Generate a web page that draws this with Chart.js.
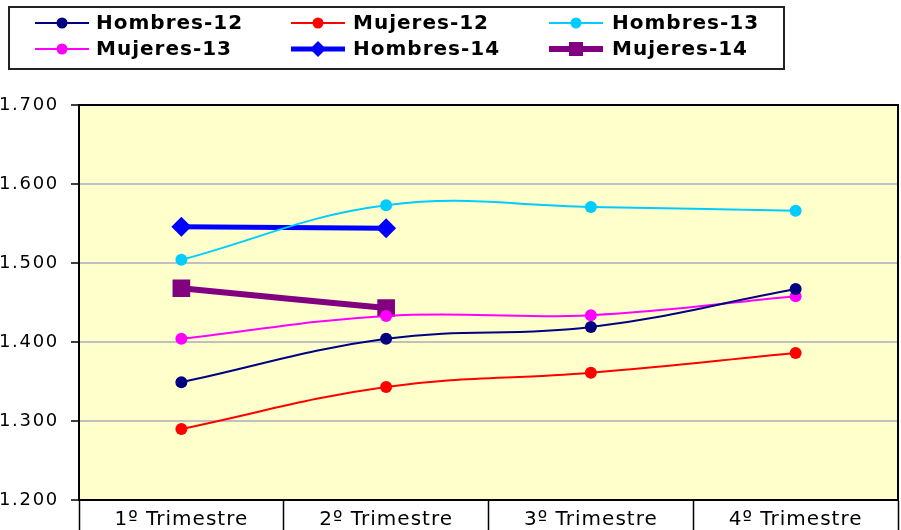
<!DOCTYPE html>
<html>
<head>
<meta charset="utf-8">
<script src="https://cdn.jsdelivr.net/npm/chart.js@4/dist/chart.umd.min.js"></script>
<style>
  body { margin: 0; background: #fff; }
  canvas { display: block; }
</style>
</head>
<body>
<canvas id="chart" width="901" height="530"></canvas>
<script>
// datos
const trimestres = ["1º Trimestre", "2º Trimestre", "3º Trimestre", "4º Trimestre"];
const hombres12 = [1.349, 1.404, 1.419, 1.467];
const mujeres12 = [1.290, 1.343, 1.361, 1.386];
const hombres13 = [1.504, 1.573, 1.571, 1.566];
const mujeres13 = [1.404, 1.433, 1.434, 1.458];
const hombres14 = [1.546, 1.544, null, null];
const mujeres14 = [1.468, 1.443, null, null];
const yTicks = [1.2, 1.3, 1.4, 1.5, 1.6, 1.7];

const fontFamily = "Verdana, 'DejaVu Sans', sans-serif";

// fondo amarillo
const bgPlugin = {
    id: "bg",
    beforeLayout(chart) {
        chart.ctx.letterSpacing = "1px";
    },
    beforeDraw(chart) {
        const a = chart.chartArea;
        const ctx = chart.ctx;
        ctx.letterSpacing = "1px";
        ctx.save();
        ctx.fillStyle = "#ffffcc";
        ctx.fillRect(a.left, a.top, a.right - a.left, a.bottom - a.top);
        ctx.restore();
    },
    beforeDatasetsDraw(chart) {
        // borde superior y derecho
        const a = chart.chartArea;
        const ctx = chart.ctx;
        ctx.save();
        ctx.strokeStyle = "#000";
        ctx.lineWidth = 2;
        ctx.beginPath();
        ctx.moveTo(a.left, a.top);
        ctx.lineTo(a.right, a.top);
        ctx.lineTo(a.right, a.bottom);
        ctx.stroke();
        ctx.restore();
    }
};

// leyenda en recuadro, 3 columnas
const boxLegend = {
    id: "boxLegend",
    afterDraw(chart) {
        const ctx = chart.ctx;
        const colLine = [35, 291, 549];
        const colText = [96, 353, 612];
        const rowY = [23, 49];
        ctx.save();
        ctx.fillStyle = "#fff";
        ctx.fillRect(9, 7, 775, 62);
        ctx.strokeStyle = "#222";
        ctx.lineWidth = 2;
        ctx.strokeRect(9, 7, 775, 62);
        chart.data.datasets.forEach((ds, i) => {
            const c = i % 3, r = Math.floor(i / 3);
            const x0 = colLine[c], y = rowY[r];
            const cx = x0 + 27;
            ctx.strokeStyle = ds.borderColor;
            ctx.lineWidth = ds.borderWidth;
            ctx.beginPath();
            ctx.moveTo(x0, y);
            ctx.lineTo(x0 + 54, y);
            ctx.stroke();
            ctx.fillStyle = ds.borderColor;
            ctx.beginPath();
            if (ds.pointStyle === "circle") {
                ctx.arc(cx, y, 5.5, 0, Math.PI * 2);
            } else if (ds.pointStyle === "rectRot") {
                ctx.moveTo(cx - 8, y);
                ctx.lineTo(cx, y - 8);
                ctx.lineTo(cx + 8, y);
                ctx.lineTo(cx, y + 8);
                ctx.closePath();
            } else {
                ctx.rect(cx - 7, y - 7, 14, 14);
            }
            ctx.fill();
            ctx.fillStyle = "#000";
            ctx.font = "bold 20px " + fontFamily;
            ctx.letterSpacing = "1px";
            ctx.textBaseline = "middle";
            ctx.textAlign = "left";
            ctx.fillText(ds.label, colText[c], y + 1);
        });
        ctx.restore();
    }
};

function serie(label, data, color, width, style, radius) {
    return {
        label: label,
        data: data,
        borderColor: color,
        backgroundColor: color,
        pointBackgroundColor: color,
        pointBorderColor: color,
        borderWidth: width,
        pointStyle: style,
        pointRadius: radius,
        pointBorderWidth: 0,
        tension: 0.4,
        fill: false
    };
}

const chart = new Chart(document.getElementById("chart"), {
    type: "line",
    data: {
        labels: trimestres,
        datasets: [
            serie("Hombres-12", hombres12, "#000080", 2, "circle", 6),
            serie("Mujeres-12", mujeres12, "#ff0000", 2, "circle", 6),
            serie("Hombres-13", hombres13, "#00ccff", 2, "circle", 6),
            serie("Mujeres-13", mujeres13, "#ff00ff", 2, "circle", 6),
            serie("Hombres-14", hombres14, "#0000ff", 5, "rectRot", 10),
            serie("Mujeres-14", mujeres14, "#800080", 6, "rect", 12.5)
        ]
    },
    options: {
        responsive: false,
        animation: false,
        devicePixelRatio: 1,
        layout: { autoPadding: false, padding: { top: 105, right: 3, left: 0, bottom: 0 } },
        plugins: {
            legend: { display: false },
            tooltip: { enabled: false }
        },
        scales: {
            x: {
                offset: true,
                border: { color: "#000", width: 2 },
                grid: {
                    offset: true,
                    drawOnChartArea: false,
                    drawTicks: true,
                    tickLength: 30,
                    tickWidth: 1.5,
                    tickColor: (ctx) => ctx.index === 4 ? "rgba(0,0,0,0)" : "#000"
                },
                ticks: {
                    padding: -22,
                    color: "#000",
                    font: { family: fontFamily, size: 20 },
                    maxRotation: 0
                },
                afterFit(scale) {
                    scale.height = 30;
                    scale.paddingLeft = 0;
                    scale.paddingRight = 0;
                }
            },
            y: {
                min: 1.2,
                max: 1.7,
                border: { color: "#000", width: 2 },
                grid: {
                    color: "#c0c0c0",
                    lineWidth: 2,
                    tickLength: 8,
                    tickColor: "#000",
                    tickWidth: 1.5
                },
                afterBuildTicks(scale) {
                    scale.ticks = yTicks.map(v => ({ value: v }));
                },
                ticks: {
                    padding: 12,
                    color: "#000",
                    font: { family: fontFamily, size: 18 },
                    callback: (v) => Number(v).toFixed(3)
                },
                afterFit(scale) {
                    scale.width = 79;
                    scale.paddingTop = 0;
                    scale.paddingBottom = 0;
                }
            }
        }
    },
    plugins: [bgPlugin, boxLegend]
});

// etiquetas del eje Y algo mas espaciadas
const yScale = chart.scales.y;
const drawYLabels = yScale.drawLabels.bind(yScale);
yScale.drawLabels = function (area) {
    const ctx = this.ctx;
    const prev = ctx.letterSpacing;
    ctx.letterSpacing = "1.7px";
    drawYLabels(area);
    ctx.letterSpacing = prev;
};
chart.draw();
</script>
</body>
</html>
